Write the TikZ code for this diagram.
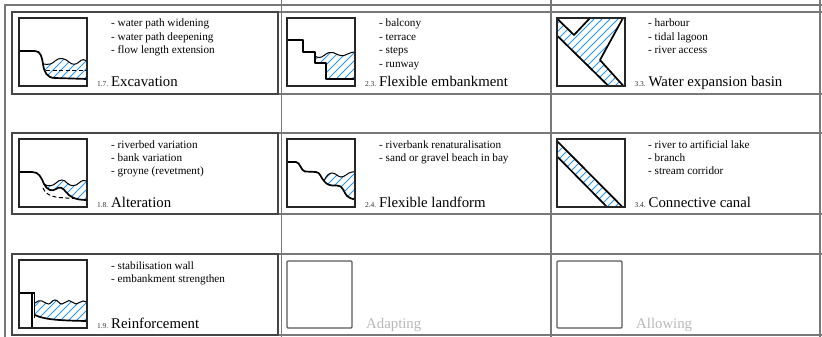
\documentclass[tikz,border=0pt]{standalone}
\usepackage{fontspec}
\setmainfont{Liberation Serif}
\definecolor{hatchblue}{RGB}{40,150,245}
\definecolor{gridgray}{RGB}{120,120,120}
\definecolor{framegray}{RGB}{70,70,70}
% diagonal hatching of a closed region given in icon coordinates
\newcommand\hatcharea[1]{%
  \begin{scope}
    \clip #1;
    \foreach \k in {-72,-64,...,72}{\draw[hatchline] (\k,70) -- ++(70,-70);}
  \end{scope}}
\begin{document}
\begin{tikzpicture}[x=1pt,y=-1pt,
  gridline/.style={draw=gridgray,line width=1.3pt},
  cellframe/.style={draw=framegray,line width=1.3pt},
  iconbox/.style={draw=black!85,line width=1.7pt},
  emptybox/.style={draw=black!65,line width=1.1pt,rounded corners=1pt},
  bank/.style={draw=black,line width=1.7pt,line join=round},
  surface/.style={draw=black,line width=1pt},
  oldbed/.style={draw=black,line width=1pt,dash pattern=on 4pt off 2.5pt},
  hatchline/.style={draw=hatchblue,line width=0.8pt},
  itemtext/.style={anchor=base west,inner sep=0pt,font=\fontsize{11.2}{13}\selectfont},
  titletext/.style={anchor=base west,inner sep=0pt,font=\fontsize{14.8}{17}\selectfont},
  numtext/.style={anchor=base east,inner sep=0pt,font=\fontsize{7.5}{9}\selectfont,text=black!80},
  pendingtext/.style={titletext,text=black!28}
]
\useasboundingbox (0,0) rectangle (822,337);

% ---------- table grid ----------
\draw[gridline] (5,337) -- (5,5) -- (822,5);
\foreach \yy in {12,94,133,214,254,335}{\draw[gridline] (12,\yy) -- (822,\yy);}
\foreach \xx in {281.5,551,820}{\draw[gridline] (\xx,0) -- (\xx,337);}
% framed cells of the first column
\foreach \yy/\yb in {12/94,133/214,254/335}{
  \draw[cellframe] (12,\yy) rectangle (278,\yb);}

% ---------- 1.7 Excavation ----------
\begin{scope}[shift={(19,18)}]
  \hatcharea{(24,46) .. controls (30,47) and (33,46) .. (36,43) .. controls (40,39) and (46,40) .. (50,44) .. controls (53,47) and (57,47) .. (60,44) .. controls (63,41) and (66,41) .. (68,43) -- (68,61) -- (36,60) .. controls (28,60) and (25,54) .. (24,46) -- cycle}
  \draw[surface] (24,46) .. controls (30,47) and (33,46) .. (36,43) .. controls (40,39) and (46,40) .. (50,44) .. controls (53,47) and (57,47) .. (60,44) .. controls (63,41) and (66,41) .. (68,43);
  \draw[oldbed] (27,53) -- (67,53);
  \draw[bank] (0,33) -- (16,33) .. controls (22,33) and (23,40) .. (24,46) .. controls (25,54) and (28,60) .. (36,60) -- (68,61);
  \draw[iconbox] (0,0) rectangle (68,68);
\end{scope}
\node[itemtext] (i17a) at (111,27) {- water path widening};
\node[itemtext] (i17b) at (111,40.4) {- water path deepening};
\node[itemtext] (i17c) at (111,53.8) {- flow length extension};
\node[numtext] (n17) at (108.5,86) {1.7.};
\node[titletext] (t17) at (111,86) {Excavation};

% ---------- 2.3 Flexible embankment ----------
\begin{scope}[shift={(287,18)}]
  \hatcharea{(27.7,38) .. controls (31,40) and (34,40) .. (37,37.5) .. controls (40,35) and (43,33.5) .. (46,34.5) .. controls (50,36) and (53,38.5) .. (57,37.5) .. controls (61,36.5) and (63,34) .. (68,34) -- (68,60.7) -- (38.7,60.7) -- (38.7,45) -- (27.7,45) -- cycle}
  \draw[surface] (27.7,38) .. controls (31,40) and (34,40) .. (37,37.5) .. controls (40,35) and (43,33.5) .. (46,34.5) .. controls (50,36) and (53,38.5) .. (57,37.5) .. controls (61,36.5) and (63,34) .. (68,34);
  \draw[bank] (0,22.3) -- (16,22.3) -- (16,34) -- (27.7,34) -- (27.7,45) -- (38.7,45) -- (38.7,60.7) -- (68,60.7);
  \draw[iconbox] (0,0) rectangle (68,68);
\end{scope}
\node[itemtext] (i23a) at (379,27) {- balcony};
\node[itemtext] (i23b) at (379,40.4) {- terrace};
\node[itemtext] (i23c) at (379,53.8) {- steps};
\node[itemtext] (i23d) at (379,67.2) {- runway};
\node[numtext] (n23) at (376.5,86) {2.3.};
\node[titletext] (t23) at (379,86) {Flexible embankment};

% ---------- 3.3 Water expansion basin ----------
\begin{scope}[shift={(557,18)}]
  \hatcharea{(0,0) -- (17,17) -- (33,0) -- (66,0) -- (43,42) -- (66,68) -- (52,68) -- (0,17.5) -- cycle}
  \draw[bank] (0,0.5) -- (17,17) -- (33,0);
  \draw[bank] (66,0) -- (43,42) -- (66,67.5);
  \draw[bank] (0,17.5) -- (51.5,68);
  \draw[iconbox] (0,0) rectangle (68,68);
\end{scope}
\node[itemtext] (i33a) at (648,27) {- harbour};
\node[itemtext] (i33b) at (648,40.4) {- tidal lagoon};
\node[itemtext] (i33c) at (648,53.8) {- river access};
\node[numtext] (n33) at (646,86) {3.3.};
\node[titletext] (t33) at (648.5,86) {Water expansion basin};

% ---------- 1.8 Alteration ----------
\begin{scope}[shift={(19,139)}]
  \hatcharea{(25,45) .. controls (29,48) and (34,47) .. (37,44) .. controls (41,40) and (45,40) .. (48,44) .. controls (52,48) and (57,47) .. (60,44) .. controls (63,41) and (66,41) .. (68,42) -- (68,61) .. controls (56,61) and (51,58) .. (47,53) .. controls (44,49) and (41,47) .. (37,50) .. controls (33,53) and (28,51) .. (25,45) -- cycle}
  \draw[surface] (25,45) .. controls (29,48) and (34,47) .. (37,44) .. controls (41,40) and (45,40) .. (48,44) .. controls (52,48) and (57,47) .. (60,44) .. controls (63,41) and (66,41) .. (68,42);
  \draw[oldbed] (24,49) .. controls (26,55) and (32,57.5) .. (40,58.5) -- (54,59.5);
  \draw[bank] (0,33) -- (13,33) .. controls (20,33) and (22,38) .. (25,45) .. controls (28,51) and (33,53) .. (37,50) .. controls (41,47) and (44,49) .. (47,53) .. controls (51,58) and (56,61) .. (68,61);
  \draw[iconbox] (0,0) rectangle (68,68);
\end{scope}
\node[itemtext] (i18a) at (111,148) {- riverbed variation};
\node[itemtext] (i18b) at (111,161.4) {- bank variation};
\node[itemtext] (i18c) at (111,174.8) {- groyne (revetment)};
\node[numtext] (n18) at (108.5,207) {1.8.};
\node[titletext] (t18) at (111,207) {Alteration};

% ---------- 2.4 Flexible landform ----------
\begin{scope}[shift={(287,139)}]
  \hatcharea{(37,42) .. controls (39,37) and (42,34) .. (45,34) .. controls (49,34) and (51,38) .. (54,38) .. controls (58,38) and (61,33.5) .. (64,33.3) -- (68,32.5) -- (68,60.5) .. controls (65,60) and (62,59) .. (60,57) .. controls (57,54) and (56,46) .. (50,46.5) .. controls (44,47) and (40,46) .. (37,42) -- cycle}
  \draw[surface] (37,42) .. controls (39,37) and (42,34) .. (45,34) .. controls (49,34) and (51,38) .. (54,38) .. controls (58,38) and (61,33.5) .. (64,33.3) -- (68,32.5);
  \draw[bank] (0,23) -- (9,23) .. controls (13,23) and (14,32) .. (18,32.5) -- (29,33) .. controls (33,33) and (34,39) .. (37,42) .. controls (40,46) and (44,47) .. (50,46.5) .. controls (56,46) and (57,54) .. (60,57) .. controls (62,59) and (65,60) .. (68,60.5);
  \draw[iconbox] (0,0) rectangle (68,68);
\end{scope}
\node[itemtext] (i24a) at (379,148) {- riverbank renaturalisation};
\node[itemtext] (i24b) at (379,161.4) {- sand or gravel beach in bay};
\node[numtext] (n24) at (376.5,207) {2.4.};
\node[titletext] (t24) at (379,207) {Flexible landform};

% ---------- 3.4 Connective canal ----------
\begin{scope}[shift={(557,139)}]
  \hatcharea{(0,2) -- (66,68) -- (50,68) -- (0,17.3) -- cycle}
  \draw[bank] (0,2) -- (65.5,68);
  \draw[bank] (0,17.3) -- (50,68);
  \draw[iconbox] (0,0) rectangle (68,68);
\end{scope}
\node[itemtext] (i34a) at (648,148) {- river to artificial lake};
\node[itemtext] (i34b) at (648,161.4) {- branch};
\node[itemtext] (i34c) at (648,174.8) {- stream corridor};
\node[numtext] (n34) at (646,207) {3.4.};
\node[titletext] (t34) at (648.5,207) {Connective canal};

% ---------- 1.9 Reinforcement ----------
\begin{scope}[shift={(19,260)}]
  \hatcharea{(16,43) .. controls (18,41) and (21,40) .. (23,41) .. controls (26,42) and (27,44) .. (29.5,44) .. controls (32,44) and (33,40) .. (36,40) .. controls (39,40) and (40,44) .. (43,44) .. controls (46,44) and (47,40.5) .. (50,40.5) .. controls (53,40.5) and (54,44) .. (57,44) .. controls (60,44) and (61,41) .. (64,41) .. controls (66,41) and (67,42) .. (68,42.5) -- (68,61) .. controls (36,60.5) and (24,59) .. (16,55) -- cycle}
  \draw[surface] (16,43) .. controls (18,41) and (21,40) .. (23,41) .. controls (26,42) and (27,44) .. (29.5,44) .. controls (32,44) and (33,40) .. (36,40) .. controls (39,40) and (40,44) .. (43,44) .. controls (46,44) and (47,40.5) .. (50,40.5) .. controls (53,40.5) and (54,44) .. (57,44) .. controls (60,44) and (61,41) .. (64,41) .. controls (66,41) and (67,42) .. (68,42.5);
  \draw[bank] (16,55) .. controls (24,59) and (36,60.5) .. (68,61);
  \draw[bank] (0,33) -- (15.5,33);
  \draw[bank] (13,33) -- (13,68);
  \draw[surface] (15.5,33) -- (15.5,58);
  \draw[iconbox] (0,0) rectangle (68,68);
\end{scope}
\node[itemtext] (i19a) at (111,269) {- stabilisation wall};
\node[itemtext] (i19b) at (111,282.4) {- embankment strengthen};
\node[numtext] (n19) at (108.5,328) {1.9.};
\node[titletext] (t19) at (111,328) {Reinforcement};

% ---------- empty categories ----------
\draw[emptybox] (287,261) rectangle (352,328);
\node[pendingtext] (tadapt) at (366,328) {Adapting};
\draw[emptybox] (557,261) rectangle (622,328);
\node[pendingtext] (tallow) at (636,328) {Allowing};

\end{tikzpicture}
\end{document}
